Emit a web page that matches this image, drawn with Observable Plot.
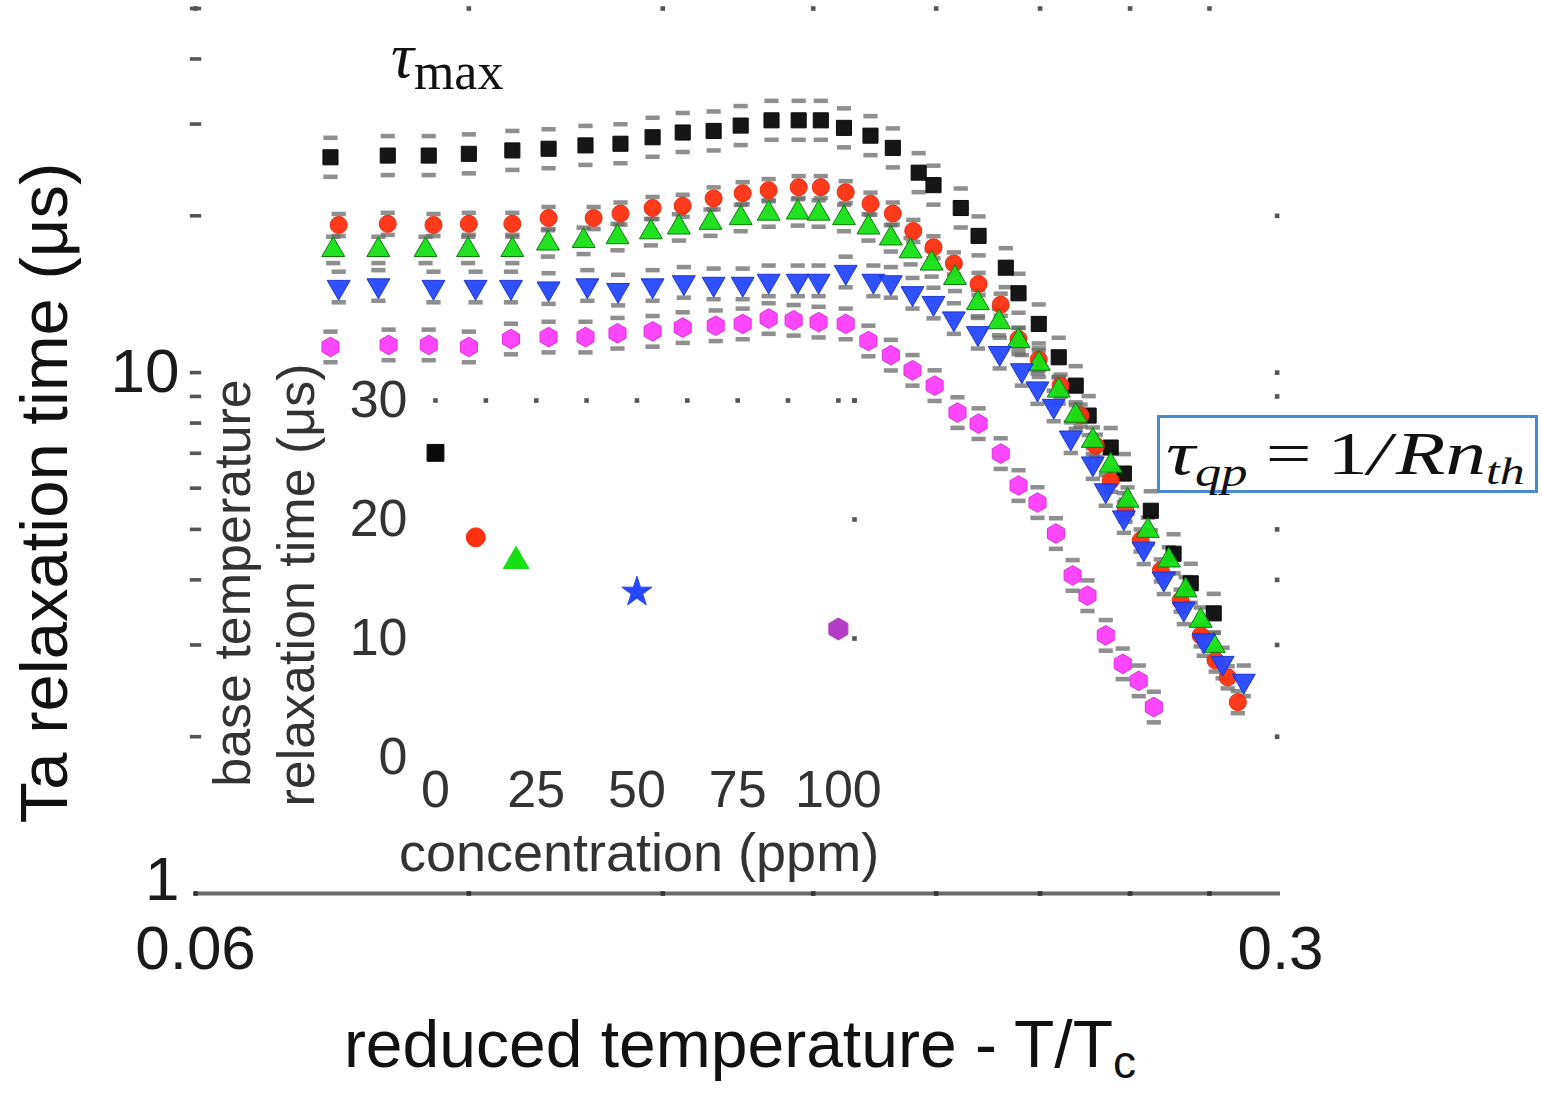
<!DOCTYPE html>
<html>
<head>
<meta charset="utf-8">
<script src="https://cdn.jsdelivr.net/npm/d3@7"></script>
<script src="https://cdn.jsdelivr.net/npm/@observablehq/plot@0.6"></script>
<style>
  body { margin: 0; background: #fff; }
  #wrap { position: relative; width: 1542px; height: 1095px; overflow: hidden; background: #fff; }
  #mainHolder { position: absolute; left: 0; top: 0; }
  #insetHolder { position: absolute; left: 200px; top: 340px; pointer-events: none; }
  .math { position: absolute; font-family: "Liberation Serif", "DejaVu Serif", serif; color: #111; white-space: nowrap; line-height: 1; }
  #qpbox { position: absolute; left: 1157px; top: 415px; width: 381px; height: 78px; box-sizing: border-box;
           border: 3px solid #4a88d0; background: #fff; font-family: "Liberation Serif", "DejaVu Serif", serif;
           color: #111; white-space: nowrap; line-height: 1; }
  #qpline { position: absolute; left: 6px; top: 4px; transform: scaleX(1.31); transform-origin: 0 0; }
</style>
</head>
<body>
<div id="wrap">
  <div id="mainHolder"></div>
  <div id="insetHolder"></div>
  <div class="math" style="left:391px; top:24px;"><span style="font-style:italic; font-size:64px;">τ</span><span style="font-size:52px; position:relative; top:12px;">max</span></div>
  <div id="qpbox"><div id="qpline"><span style="font-style:italic; font-size:62px;">τ</span><span style="font-style:italic; font-size:40px; position:relative; top:12px;">qp</span><span style="font-size:62px; margin-left:14px;">=</span><span style="font-size:62px; margin-left:12px;">1</span><span style="font-size:62px; font-style:italic;">/</span><span style="font-size:62px; font-style:italic; margin-left:4px;">R</span><span style="font-size:62px; font-style:italic;">n</span><span style="font-style:italic; font-size:38px; position:relative; top:10px;">th</span></div></div>
</div>
<script>
// ---------------- data ----------------
const seriesNames   = ["0 ppm", "10 ppm", "20 ppm", "50 ppm", "100 ppm"];
const seriesFill    = ["#0a0a0a", "#ff3010", "#14e014", "#2548ff", "#ff3cff"];
const seriesStroke  = ["#0a0a0a", "#e82a0c", "#0b7a0b", "#1c34d0", "#e02ce0"];
const seriesRelErr  = [0.09, 0.05, 0.06, 0.07, 0.07];

// reduced temperature T/Tc and relaxation time (µs) per series
const tBlack = [0.0733,0.0798,0.0848,0.0900,0.0960,0.1013,0.1070,0.1127,0.1182,0.1236,0.1294,0.1347,0.1410,0.1468,0.1517,0.1570,0.1633,0.1688,0.1754,0.1793,0.1867,0.1917,0.1996,0.2034,0.2096,0.2159,0.2214,0.2257,0.2332,0.2378,0.2475,0.2560,0.2626,0.2717];
const tauBlack = [25.9,26.1,26.1,26.3,26.7,26.9,27.3,27.5,28.3,28.9,29.1,29.8,30.5,30.5,30.5,29.5,28.5,27.0,24.2,22.9,20.7,18.3,15.9,14.2,12.4,10.7,9.44,8.27,7.18,6.40,5.43,4.49,3.94,3.45];

const tRed = [0.0742,0.0798,0.0854,0.0900,0.0960,0.1013,0.1083,0.1127,0.1182,0.1236,0.1294,0.1351,0.1404,0.1468,0.1517,0.1574,0.1633,0.1688,0.1740,0.1793,0.1848,0.1917,0.1981,0.2034,0.2096,0.2165,0.2230,0.2281,0.2332,0.2384,0.2438,0.2512,0.2587,0.2665,0.2725,0.2774,0.2816];
const tauRed = [19.2,19.3,19.2,19.3,19.3,19.8,19.8,20.2,20.7,20.9,21.6,22.1,22.4,22.7,22.7,22.2,21.1,20.2,18.7,17.4,16.2,14.8,13.5,11.6,10.6,9.44,8.27,7.24,6.20,5.43,4.76,4.17,3.65,3.13,2.80,2.60,2.33];

const tGreen = [0.0736,0.0787,0.0844,0.0899,0.0960,0.1012,0.1067,0.1122,0.1179,0.1229,0.1288,0.1347,0.1404,0.1466,0.1512,0.1570,0.1628,0.1683,0.1733,0.1788,0.1851,0.1915,0.1976,0.2034,0.2096,0.2159,0.2214,0.2271,0.2332,0.2391,0.2464,0.2542,0.2606,0.2665,0.2717];
const tauGreen = [17.2,17.2,17.2,17.2,17.2,17.7,17.9,18.2,18.6,19.0,19.4,19.8,20.2,20.3,20.2,19.8,19.0,18.1,17.1,16.2,15.2,13.6,12.5,11.5,10.4,9.24,8.27,7.40,6.63,5.68,4.97,4.36,3.82,3.34,2.99];

const tBlue = [0.0742,0.0787,0.0854,0.0909,0.0958,0.1013,0.1073,0.1123,0.1182,0.1238,0.1294,0.1351,0.1404,0.1466,0.1512,0.1574,0.1640,0.1683,0.1738,0.1793,0.1848,0.1915,0.1978,0.2044,0.2092,0.2143,0.2198,0.2271,0.2315,0.2378,0.2449,0.2523,0.2599,0.2677,0.2753,0.2841];
const tauBlue = [14.6,14.7,14.6,14.6,14.6,14.5,14.7,14.4,14.7,14.9,14.8,14.8,15.0,15.0,15.0,15.6,15.0,14.9,14.2,13.6,12.7,11.9,10.9,10.1,9.32,8.63,7.50,6.69,5.94,5.27,4.59,4.02,3.52,3.06,2.77,2.56];

const tMagenta = [0.0733,0.0799,0.0848,0.0900,0.0958,0.1013,0.1070,0.1122,0.1182,0.1236,0.1298,0.1351,0.1404,0.1457,0.1512,0.1574,0.1628,0.1683,0.1738,0.1796,0.1858,0.1917,0.1981,0.2034,0.2092,0.2150,0.2204,0.2253,0.2315,0.2374,0.2431,0.2486];
const tauMagenta = [11.2,11.3,11.3,11.2,11.6,11.7,11.7,11.9,12.0,12.2,12.3,12.4,12.7,12.6,12.5,12.4,11.5,10.8,10.1,9.44,8.38,7.98,6.99,6.07,5.63,4.91,4.08,3.73,3.13,2.76,2.56,2.28];

// inset: base-temperature relaxation time vs concentration
const concentration = [0, 10, 20, 50, 100];
const baseTau = [25.6, 18.5, 16.5, 13.9, 10.8];
const insetFill = ["#0a0a0a", "#ff3010", "#14e014", "#2548ff", "#b23cc4"];

// axis ticks
const xLabelTicks = [0.06, 0.3];
const xLabelText = ["0.06", "0.3"];
const xFrameTicks = [0.06, 0.09, 0.12, 0.15, 0.18, 0.21, 0.24, 0.27];
const yLabelTicks = [1, 10];
const yLabelText = ["1", "10"];
const yLeftTicks = [2, 3, 4, 5, 6, 7, 8, 9, 10, 20, 30, 40, 50];
const yRightTicks = [2, 3, 4, 5, 6, 7, 8, 9, 10, 20];
const insetXTicks = [0, 25, 50, 75, 100];
const insetYTicks = [0, 10, 20, 30];
const insetTopTicks = [0, 12.5, 25, 37.5, 50, 62.5, 75, 87.5, 100, 104];
const insetRightTicks = [10, 20, 30];

// ---------------- build ----------------
const dashSym = {draw(ctx, size) { const w = Math.sqrt(size); const h = w * 0.32;
  ctx.moveTo(-w, -h); ctx.lineTo(w, -h); ctx.lineTo(w, h); ctx.lineTo(-w, h); ctx.closePath(); }};
const downTri = {draw(ctx, size) { const y = Math.sqrt(size / (Math.sqrt(3) * 3)); const s = Math.sqrt(3);
  ctx.moveTo(0, 2 * y); ctx.lineTo(-s * y, -y); ctx.lineTo(s * y, -y); ctx.closePath(); }};
const seriesSymbol = ["square", "circle", "triangle", downTri, "hexagon"];
const insetSymbol = ["square", "circle", "triangle", "star", "hexagon"];

const tArrays = [tBlack, tRed, tGreen, tBlue, tMagenta];
const tauArrays = [tauBlack, tauRed, tauGreen, tauBlue, tauMagenta];
const series = seriesNames.map((name, i) => ({
  name, fill: seriesFill[i], stroke: seriesStroke[i], symbol: seriesSymbol[i], err: seriesRelErr[i],
  rows: tArrays[i].map((t, j) => ({t, tau: tauArrays[i][j]}))
}));

const caps = [];
series.forEach(s => s.rows.forEach(r => {
  caps.push({t: r.t, tau: r.tau * (1 + s.err)});
  caps.push({t: r.t, tau: r.tau / (1 + s.err)});
}));

const sansFont = "'Liberation Sans', Arial, Helvetica, sans-serif";

const mainMarks = [
  Plot.ruleY([1], {stroke: "#6a6a6a", strokeWidth: 4}),
  Plot.dot(xFrameTicks, {x: d => d, y: () => 1, symbol: "square", r: 2.6, fill: "#333"}),
  Plot.dot(xFrameTicks, {x: d => d, y: () => 50, symbol: "square", r: 2.6, fill: "#555"}),
  Plot.dot(yLeftTicks, {x: () => 0.06, y: d => d, symbol: dashSym, r: 3.2, fill: "#555"}),
  Plot.dot(yRightTicks, {x: () => 0.2985, y: d => d, symbol: "square", r: 2.6, fill: "#555"}),
  Plot.dot(caps, {x: "t", y: "tau", symbol: dashSym, r: 4, fill: "#6a6a6a", fillOpacity: 0.75})
];
series.forEach(s => {
  mainMarks.push(Plot.dot(s.rows, {x: "t", y: "tau", symbol: s.symbol, r: 8.5, fill: s.fill,
    stroke: s.stroke, strokeWidth: 1, fillOpacity: 0.95}));
});
mainMarks.push(
  Plot.text(["Ta relaxation time (μs)"], {text: d => d, frameAnchor: "left", textAnchor: "middle", lineAnchor: "middle",
    rotate: -90, dx: -150, dy: 42, fontSize: 67, fill: "#111"}),
  Plot.text(["reduced temperature - T/T"], {text: d => d, frameAnchor: "bottom", textAnchor: "middle", lineAnchor: "middle",
    dy: 152, dx: 2, fontSize: 66, fill: "#111"})
);

const main = Plot.plot({
  width: 1542, height: 1095,
  marginLeft: 195, marginRight: 262, marginTop: 8, marginBottom: 202,
  style: {fontFamily: sansFont, fontSize: "62px", color: "#1a1a1a", background: "white", overflow: "visible"},
  x: {type: "log", domain: [0.06, 0.3], ticks: xLabelTicks, tickFormat: d => xLabelText[xLabelTicks.indexOf(d)] ?? "",
      tickSize: 0, tickPadding: 31, label: null},
  y: {type: "log", domain: [1, 50], ticks: yLabelTicks, tickFormat: d => yLabelText[yLabelTicks.indexOf(d)] ?? "",
      tickSize: 0, tickPadding: 16, label: null},
  marks: mainMarks
});
document.getElementById("mainHolder").appendChild(main);

// subscript c in the x label
d3.select(main).selectAll("text").filter(function() { return this.textContent === "reduced temperature - T/T"; })
  .append("tspan").attr("dy", "0.25em").attr("font-size", "0.7em").text("c");
// lift the "1" tick label slightly so it sits just above the 0.06 label, as in the reference
d3.select(main).selectAll("text").filter(function() { return this.textContent === "1"; })
  .each(function() {
    const t = this.getAttribute("transform") || "";
    this.setAttribute("transform", (t + " translate(0,-13)").trim());
  });

// ---------------- inset ----------------
const insetRows = concentration.map((c, i) => ({c, tau: baseTau[i], fill: insetFill[i], symbol: insetSymbol[i]}));
const insetMarks = [
  Plot.dot(insetTopTicks, {x: d => d, y: () => 30, symbol: "square", r: 2.6, fill: "#555"}),
  Plot.dot(insetRightTicks, {x: () => 104, y: d => d, symbol: "square", r: 2.6, fill: "#555"})
];
insetRows.forEach(r => {
  insetMarks.push(Plot.dot([r], {x: "c", y: "tau", symbol: r.symbol, r: 9.5, fill: r.fill, stroke: r.fill, strokeWidth: 1}));
});
insetMarks.push(
  Plot.text(["base temperature"], {text: d => d, frameAnchor: "left", textAnchor: "middle", lineAnchor: "middle",
    rotate: -90, dx: -202, dy: 4, fontSize: 52, fill: "#333"}),
  Plot.text(["relaxation time (μs)"], {text: d => d, frameAnchor: "left", textAnchor: "middle", lineAnchor: "middle",
    rotate: -90, dx: -138, dy: 6, fontSize: 52, fill: "#333"}),
  Plot.text(["concentration (ppm)"], {text: d => d, frameAnchor: "bottom", textAnchor: "middle", lineAnchor: "middle",
    dy: 96, dx: -6, fontSize: 54, fill: "#333"})
);
const inset = Plot.plot({
  width: 690, height: 550,
  marginLeft: 235, marginRight: 36, marginTop: 60, marginBottom: 133,
  style: {fontFamily: sansFont, fontSize: "52px", color: "#333", background: "transparent", overflow: "visible"},
  x: {domain: [0, 104], ticks: insetXTicks, tickFormat: d => String(d), tickSize: 0, tickPadding: 13, label: null},
  y: {domain: [0, 30], ticks: insetYTicks, tickFormat: d => String(d), tickSize: 0, tickPadding: 28, label: null},
  marks: insetMarks
});
document.getElementById("insetHolder").appendChild(inset);
</script>
</body>
</html>
